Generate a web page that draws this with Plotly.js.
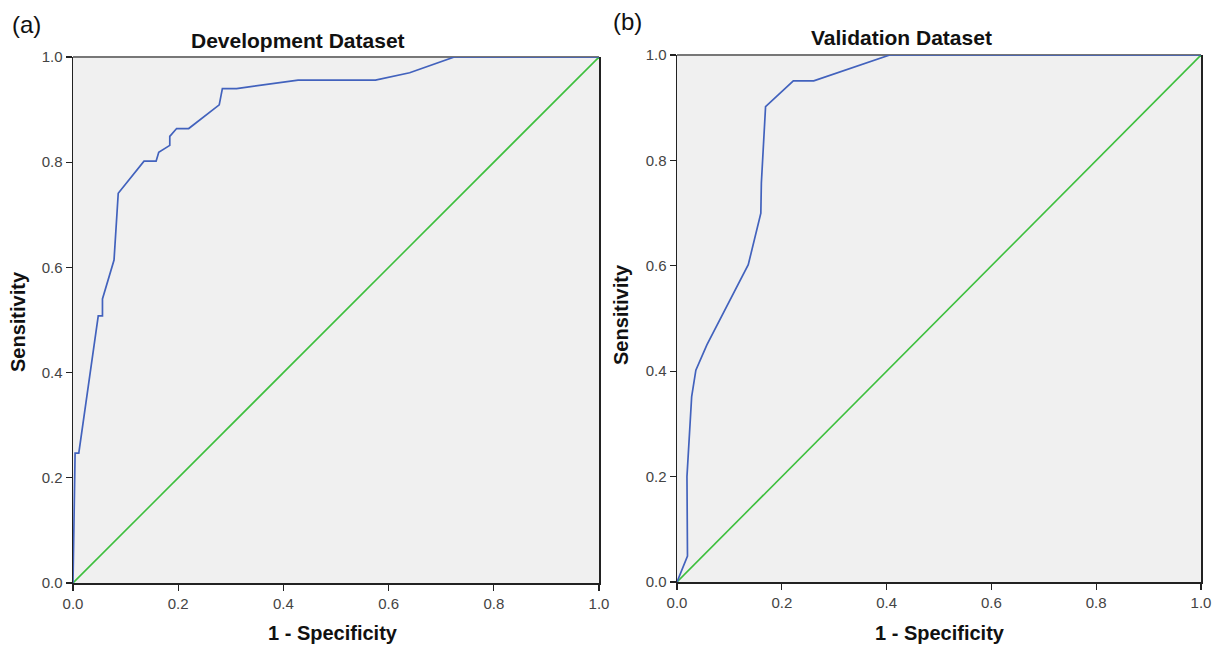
<!DOCTYPE html>
<html><head><meta charset="utf-8">
<script src="https://cdn.plot.ly/plotly-3.0.1.min.js"></script>
<style>body{margin:0;background:#fff}#chart{width:1216px;height:645px}</style>
</head><body><div id="chart"></div>
<script>
// Development dataset ROC (1 - specificity, sensitivity)
const devFPR = [0, 0.004, 0.011, 0.048, 0.056, 0.056, 0.078, 0.086, 0.135, 0.158, 0.163, 0.184, 0.184, 0.197, 0.220, 0.278, 0.284, 0.311, 0.428, 0.575, 0.640, 0.725, 1.0];
const devTPR = [0, 0.247, 0.247, 0.508, 0.508, 0.540, 0.614, 0.741, 0.802, 0.802, 0.819, 0.832, 0.849, 0.864, 0.864, 0.909, 0.940, 0.940, 0.956, 0.956, 0.970, 1.0, 1.0];
// Validation dataset ROC
const valFPR = [0, 0.020, 0.019, 0.028, 0.036, 0.057, 0.136, 0.160, 0.161, 0.169, 0.222, 0.261, 0.406, 1.0];
const valTPR = [0, 0.049, 0.200, 0.352, 0.402, 0.450, 0.602, 0.700, 0.757, 0.902, 0.951, 0.951, 1.0, 1.0];
// Reference line
const diagX = [0, 1];
const diagY = [0, 1];
const tickVals = [0, 0.2, 0.4, 0.6, 0.8, 1.0];
const tickText = ['0.0', '0.2', '0.4', '0.6', '0.8', '1.0'];
const panelTitles = ['Development Dataset', 'Validation Dataset'];
const panelLabels = ['(a)', '(b)'];
const xTitle = '1 - Specificity';
const yTitle = 'Sensitivity';

const blue = '#4262bd', green = '#3dbf3d';
const traces = [
  {x: diagX, y: diagY, xaxis: 'x', yaxis: 'y', mode: 'lines', line: {color: green, width: 1.6}, cliponaxis: false},
  {x: devFPR, y: devTPR, xaxis: 'x', yaxis: 'y', mode: 'lines', line: {color: blue, width: 1.7}, cliponaxis: false},
  {x: diagX, y: diagY, xaxis: 'x2', yaxis: 'y2', mode: 'lines', line: {color: green, width: 1.6}, cliponaxis: false},
  {x: valFPR, y: valTPR, xaxis: 'x2', yaxis: 'y2', mode: 'lines', line: {color: blue, width: 1.7}, cliponaxis: false}
];
const font = {family: 'Liberation Sans, Arial, sans-serif', color: '#222'};
function ax(domain, anchor, isY) {
  return {
    domain: domain, anchor: anchor, range: [0, 1], fixedrange: true,
    tickmode: 'array', tickvals: tickVals, ticktext: tickText,
    ticks: 'outside', ticklen: 6, tickwidth: 1.3, tickcolor: '#222',
    showline: true, linecolor: '#222', linewidth: 1.5, mirror: isY ? true : false,
    showgrid: false, zeroline: false,
    tickfont: {size: 15, color: '#444', family: font.family}
  };
}
const W = 1216, H = 645;
const d1x = [73 / W, 599 / W], d2x = [677 / W, 1201 / W];
const d1y = [1 - 583 / H, 1 - 57 / H], d2y = [1 - 582 / H, 1 - 55 / H];
const ann = [];
function addAnn(text, xpx, ypx, size, bold, angle) {
  ann.push({text: bold ? '<b>' + text + '</b>' : text, xref: 'paper', yref: 'paper',
    x: xpx / W, y: 1 - ypx / H, showarrow: false, xanchor: 'center', yanchor: 'middle',
    textangle: angle || 0, font: {family: font.family, size: size, color: '#111'}});
}
addAnn(panelTitles[0], 298, 40, 21, true);
addAnn(panelTitles[1], 901, 38, 21, true);
addAnn(panelLabels[0], 26, 24, 24, false);
addAnn(panelLabels[1], 627, 22, 24, false);
addAnn(xTitle, 333, 633, 20, true);
addAnn(xTitle, 940, 633, 20, true);
addAnn(yTitle, 18, 322, 20, true, -90);
addAnn(yTitle, 621, 315, 20, true, -90);

const shapes = [
  {type: 'line', layer: 'below', xref: 'paper', yref: 'paper', x0: d1x[0], x1: d1x[1], y0: d1y[1], y1: d1y[1], line: {color: '#777', width: 2}},
  {type: 'line', layer: 'below', xref: 'paper', yref: 'paper', x0: d2x[0], x1: d2x[1], y0: d2y[1], y1: d2y[1], line: {color: '#777', width: 2}}
];

const layout = {
  width: W, height: H, margin: {l: 0, r: 0, t: 0, b: 0},
  paper_bgcolor: '#fff', plot_bgcolor: '#f0f0f0', showlegend: false, font: font,
  xaxis: ax(d1x, 'y', false), yaxis: ax(d1y, 'x', true),
  xaxis2: ax(d2x, 'y2', false), yaxis2: ax(d2y, 'x2', true),
  annotations: ann, shapes: shapes
};
Plotly.newPlot('chart', traces, layout, {displayModeBar: false, staticPlot: true});
</script></body></html>
